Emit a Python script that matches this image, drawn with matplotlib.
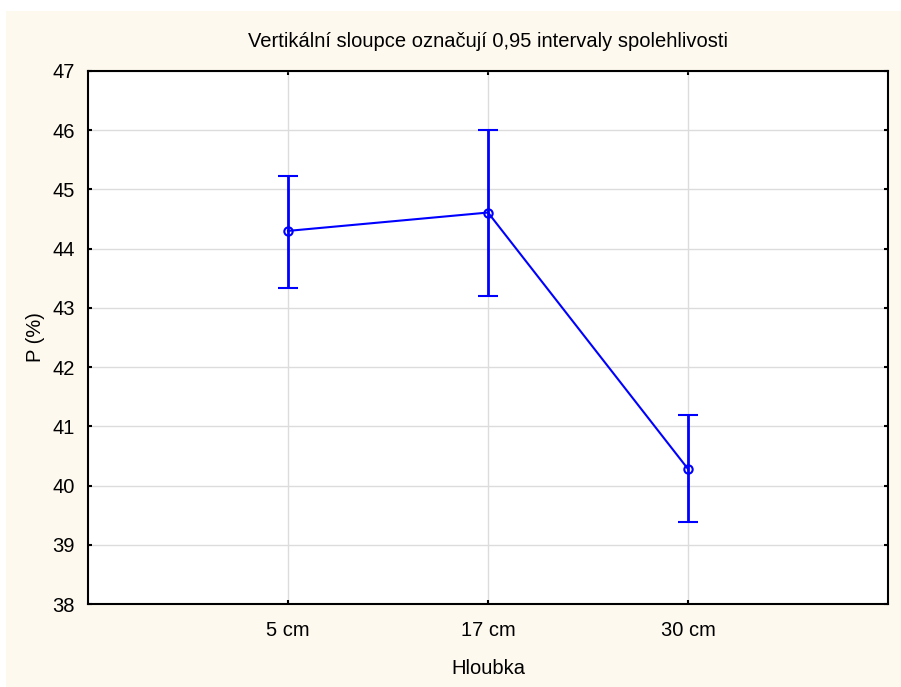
import matplotlib
matplotlib.use("Agg")
import matplotlib.pyplot as plt
from matplotlib.patches import Rectangle

categories = ["5 cm", "17 cm", "30 cm"]
means = [44.30, 44.61, 40.28]
upper = [45.22, 46.01, 41.19]
lower = [43.34, 43.20, 39.38]
yticks = [38, 39, 40, 41, 42, 43, 44, 45, 46, 47]

plt.rcParams['font.family'] = ['Liberation Sans', 'DejaVu Sans']

fig = plt.figure(figsize=(9.01, 6.87), dpi=100)
fig.patch.set_facecolor('white')
W, H = 901, 687
fig.patches.append(Rectangle((6 / W, 0), 1 - 6 / W, 1 - 11 / H, transform=fig.transFigure,
                             facecolor='#FEF9EE', edgecolor='none', zorder=-10))

ax = fig.add_axes([88 / W, 1 - 604 / H, 800 / W, 533 / H])
ax.set_zorder(1)
ax.set_facecolor('white')

x = list(range(1, len(categories) + 1))
yerr = [[m - l for m, l in zip(means, lower)], [u - m for u, m in zip(upper, means)]]
ax.errorbar(x, means, yerr=yerr, color='#0000FF', lw=1.5, elinewidth=2.0, capsize=7, capthick=2.0,
            marker='o', ms=6, mfc='none', mec='#0000FF', mew=1.5, zorder=3)

ax.set_xlim(0, 4)
ax.set_ylim(38, 47)
ax.set_xticks(x)
ax.set_xticklabels(categories)
ax.set_yticks(yticks)
ax.grid(True, color='#DCDCDC', lw=1.0)
ax.set_axisbelow(True)
for s in ax.spines.values():
    s.set_linewidth(1.5)
    s.set_color('black')
ax.tick_params(direction='in', length=3, width=1.5, top=True, right=True,
               labelsize=14.5, colors='black')
ax.tick_params(axis='x', pad=12)
ax.tick_params(axis='y', pad=9.5)

fs = 14.5
ax.set_title("Vertikální sloupce označují 0,95 intervaly spolehlivosti", fontsize=fs, pad=17)
ax.set_xlabel("Hloubka", fontsize=fs, labelpad=14)
ax.set_ylabel("P (%)", fontsize=fs, labelpad=5)

fig.savefig("out.png", dpi=100, facecolor=fig.get_facecolor())
